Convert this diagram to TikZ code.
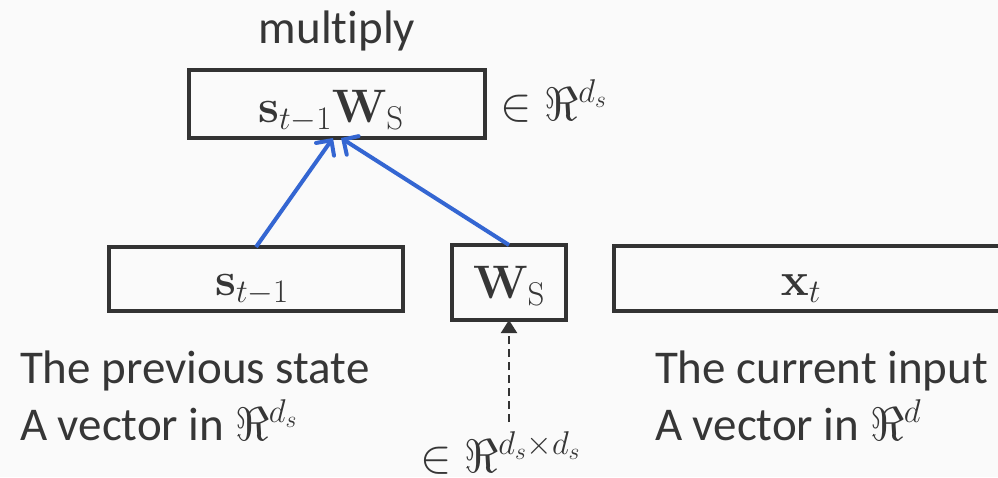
\RequirePackage{fix-cm}
\documentclass[tikz,border=0pt]{standalone}
\usepackage[no-math]{fontspec}
\setmainfont[Ligatures=NoCommon]{Carlito}
\usetikzlibrary{arrows.meta}
\definecolor{bg}{HTML}{FAFAFA}
\definecolor{ink}{HTML}{333333}
\definecolor{txt}{HTML}{363636}
\definecolor{arr}{HTML}{3466D2}
\begin{document}
\begin{tikzpicture}[x=1pt,y=-1pt,
  every node/.style={font=\fontsize{47}{56}\selectfont, text=txt, inner sep=0pt, outer sep=0pt},
  box/.style={draw=ink, line width=4pt},
  lbl/.style={anchor=base},
  txtl/.style={anchor=base west},
  blue arrow/.style={draw=arr, line width=4pt, -{Straight Barb[length=11pt,width=22pt,line width=4pt,line cap=round]}},
  dash arrow/.style={draw=ink, line width=2pt, dash pattern=on 8pt off 5pt, -{Triangle[length=13pt,width=16pt]}}]
\useasboundingbox (0,0) rectangle (998,477);
\clip (0,0) rectangle (998,477);
\fill[bg] (0,0) rectangle (998,477);
% boxes
\node[box, minimum width=296pt, minimum height=68pt] (top) at (337,104) {};
\node[box, minimum width=294pt, minimum height=64pt] (sbox) at (256,279) {};
\node[box, minimum width=114pt, minimum height=75pt] (wbox) at (509,282.5) {};
\node[box, minimum width=400pt, minimum height=65pt] (xbox) at (814,278.5) {};
% box labels
\node[lbl] (toplbl) at (331,122) {$\mathbf{s}_{t-1}\mathbf{W}_{\mathrm{S}}$};
\node[lbl] (slbl) at (252,295) {$\mathbf{s}_{t-1}$};
\node[lbl] (wlbl) at (509,298) {$\mathbf{W}_{\mathrm{S}}$};
\node[lbl] (xlbl) at (801,295) {$\mathbf{x}_{t}$};
% other texts
\node[lbl] (mult) at (337,43) {multiply};
\node[txtl] (topset) at (500,120) {$\in \Re^{d_s}$};
\node[txtl] (prev1) at (20,383) {The previous state};
\node[txtl] (prev2) at (20,440) {A vector in $\Re^{d_s}$};
\node[txtl] (cur1) at (655,383) {The current input};
\node[txtl] (cur2) at (655,440) {A vector in $\Re^{d}$};
\node[txtl] (wset) at (420,472) {$\in \Re^{d_s\times d_s}$};
\coordinate (wsrc) at (509,422);
% connectors
\draw[blue arrow] (sbox.north) -- ([xshift=-4pt]top.south);
\draw[blue arrow] (wbox.north) -- ([xshift=4pt]top.south);
\draw[dash arrow] (wsrc) -- (wbox.south);
\end{tikzpicture}
\end{document}
